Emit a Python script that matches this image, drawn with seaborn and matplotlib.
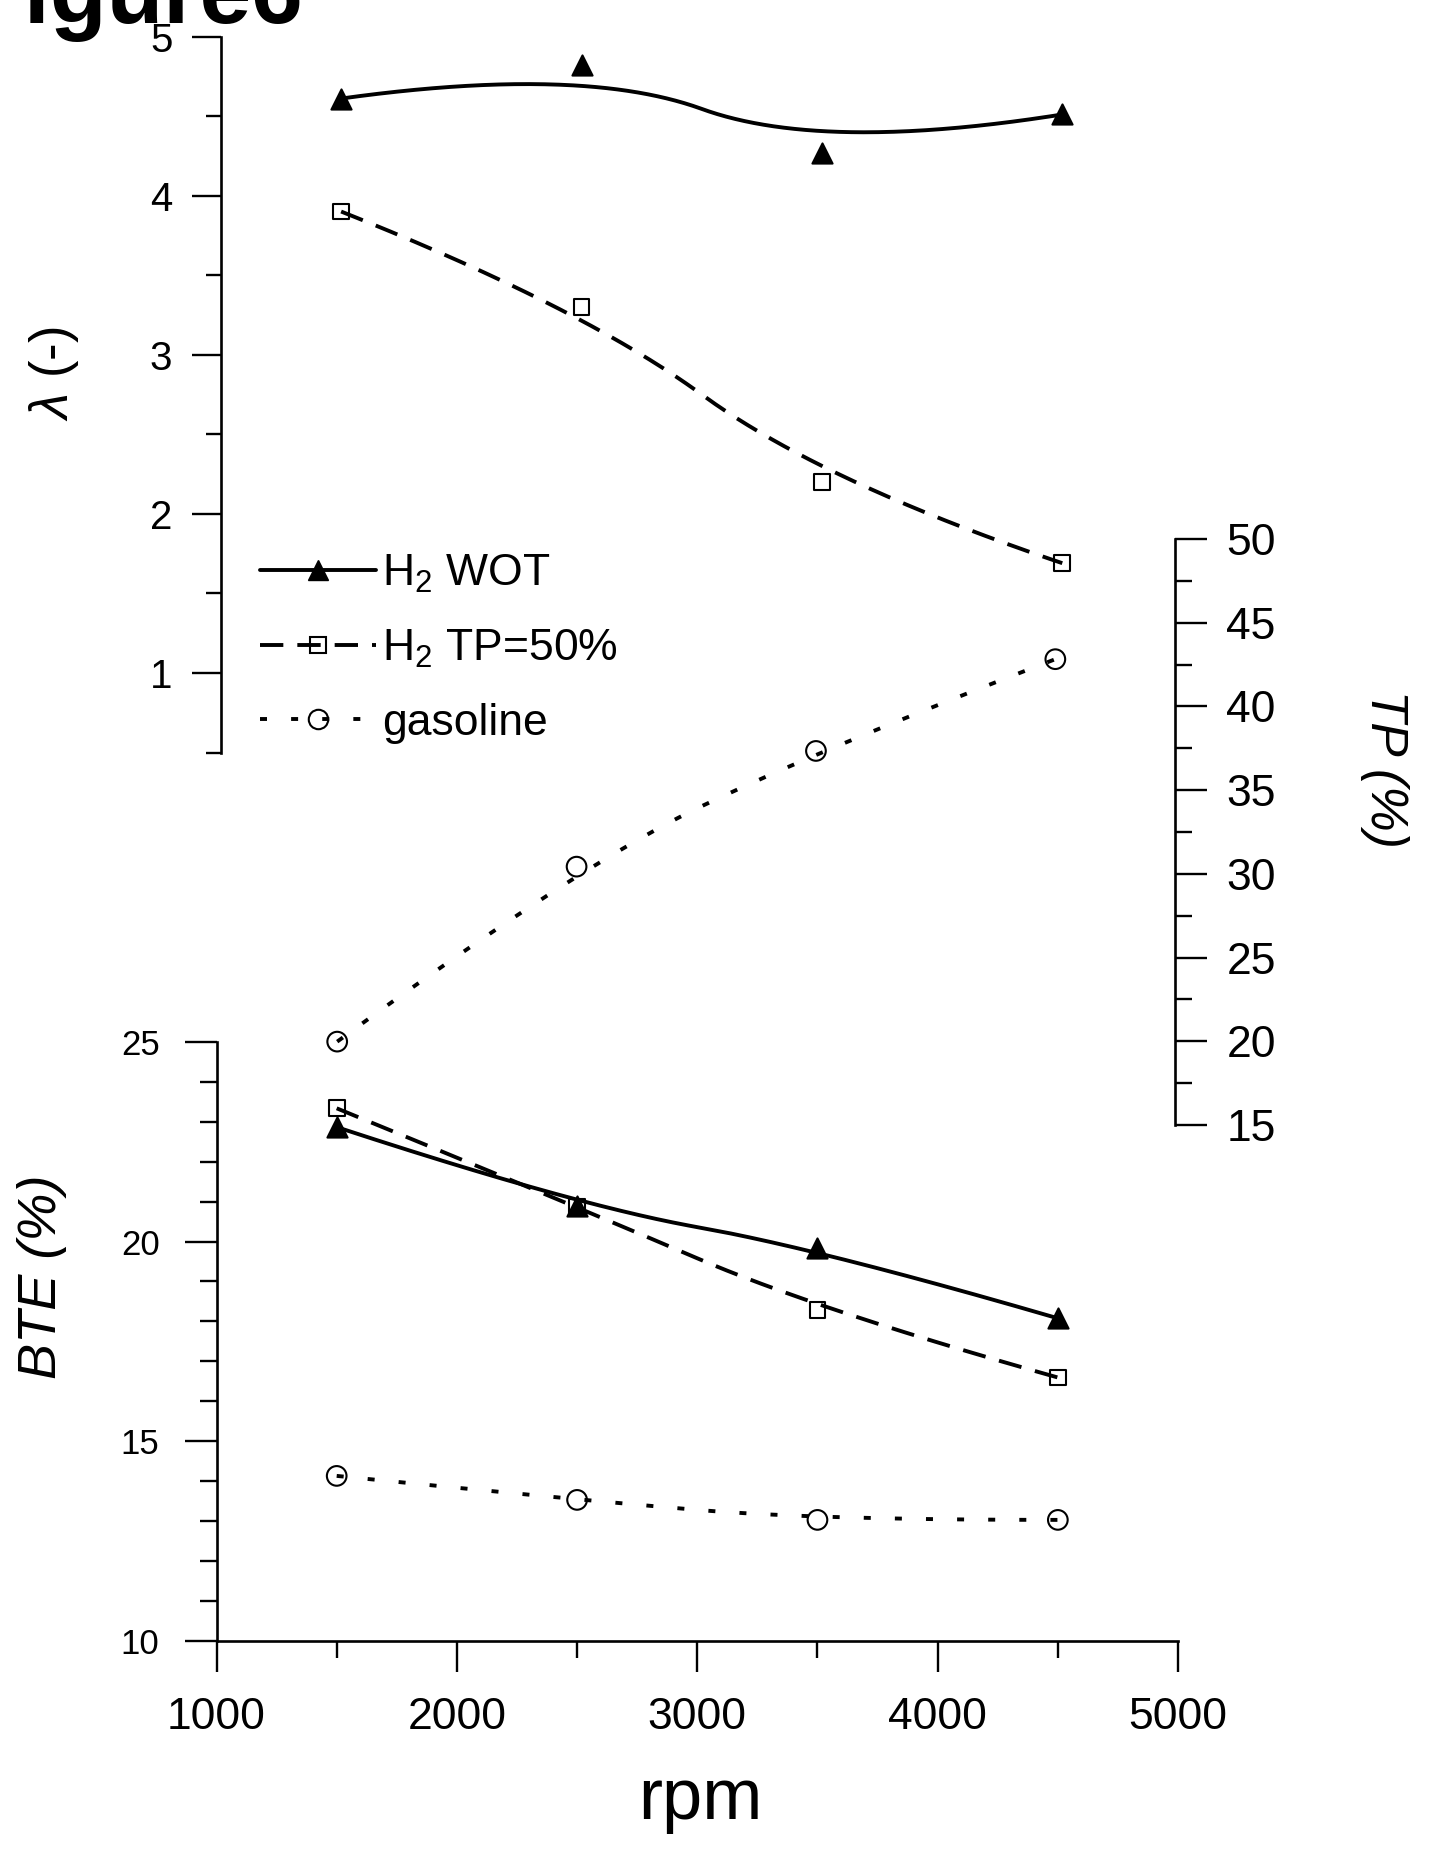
import numpy as np
import pandas as pd
import seaborn as sns
import matplotlib
matplotlib.use("Agg")
import matplotlib.pyplot as plt
from matplotlib.lines import Line2D
from matplotlib.ticker import MultipleLocator

# ---------------- data ----------------
rpm = [1500, 2500, 3500, 4500]
lambda_wot = [4.61, 4.82, 4.27, 4.51]
lambda_tp50 = [3.90, 3.30, 2.20, 1.69]
tp_gasoline = [19.98, 30.43, 37.34, 42.82]
bte_wot = [22.86, 20.89, 19.83, 18.08]
bte_tp50 = [23.33, 20.87, 18.29, 16.60]
bte_gasoline = [14.14, 13.54, 13.04, 13.04]
series_labels = ["H$_2$ WOT", "H$_2$ TP=50%", "gasoline"]
x_ticks = [1000, 2000, 3000, 4000, 5000]
lambda_ticks = [1, 2, 3, 4, 5]
tp_ticks = [15, 20, 25, 30, 35, 40, 45, 50]
bte_ticks = [10, 15, 20, 25]

# ---------------- style ----------------
sns.set_theme(style="white", rc={
    "axes.edgecolor": "black", "xtick.color": "black", "ytick.color": "black",
    "text.color": "black", "axes.labelcolor": "black",
})
plt.rcParams["font.family"] = ["Liberation Sans", "DejaVu Sans"]
plt.rcParams["mathtext.fontset"] = "custom"
plt.rcParams["mathtext.rm"] = "Liberation Sans"
plt.rcParams["mathtext.it"] = "Liberation Sans:italic"
plt.rcParams["mathtext.bf"] = "Liberation Sans:bold"

LW = 2.8
SOLID = "-"
DASHED = (0, (6.0, 3.6))
DOTTED = (0, (1.8, 6.2))


def bspline(xs, ys, k=2, num=300):
    """Clamped uniform B-spline using the data points as control points
    (the 'B-spline' connector of the original plotting program)."""
    P = np.column_stack([xs, ys]).astype(float)
    n = len(P)
    interior = np.linspace(0, 1, n - k + 1)[1:-1]
    t = np.concatenate([np.zeros(k + 1), interior, np.ones(k + 1)])
    out = []
    for uu in np.linspace(0, 1, num):
        if uu >= 1:
            s = n - 1
        else:
            s = np.searchsorted(t, uu, side="right") - 1
        d = [P[j + s - k].copy() for j in range(k + 1)]
        for r in range(1, k + 1):
            for j in range(k, r - 1, -1):
                i = j + s - k
                den = t[i + k + 1 - r] - t[i]
                alpha = 0.0 if den == 0 else (uu - t[i]) / den
                d[j] = (1 - alpha) * d[j - 1] + alpha * d[j]
        out.append(d[k])
    return np.array(out)


def draw_series(ax, values, ls, marker, filled, msize):
    c = bspline(rpm, values)
    curve = pd.DataFrame({"rpm": c[:, 0], "val": c[:, 1]})
    sns.lineplot(data=curve, x="rpm", y="val", sort=False, estimator=None,
                 color="black", lw=LW, linestyle=ls, ax=ax, zorder=2)
    pts = pd.DataFrame({"rpm": rpm, "val": values})
    sns.scatterplot(data=pts, x="rpm", y="val", marker=marker, s=msize,
                    facecolor="black" if filled else "none",
                    edgecolor="black", linewidth=1.5, ax=ax, zorder=3)
    ax.set_xlabel("")
    ax.set_ylabel("")


fig = plt.figure(figsize=(14.3, 18.54), dpi=100)

ax_bte = fig.add_axes([0.1514, 0.11462, 0.8238 - 0.1514, 0.43824 - 0.11462])
ax_lam = fig.add_axes([0.1545, 0.59412, 0.6724, 0.98031 - 0.59412])
ax_tp = fig.add_axes([0.1521, 0.3932, 0.8217 - 0.1521, 0.7093 - 0.3932])

for ax in (ax_bte, ax_lam, ax_tp):
    ax.set_facecolor("none")
    ax.set_xlim(1000, 5000)
    for sp in ax.spines.values():
        sp.set_visible(False)
        sp.set_linewidth(1.9)

# ---- lambda panel ----
draw_series(ax_lam, lambda_wot, SOLID, "^", True, 210)
draw_series(ax_lam, lambda_tp50, DASHED, "s", False, 130)
ax_lam.set_ylim(0.5, 5)
ax_lam.spines["left"].set_visible(True)
ax_lam.xaxis.set_visible(False)
ax_lam.set_yticks(lambda_ticks)
ax_lam.yaxis.set_minor_locator(MultipleLocator(0.5))
ax_lam.tick_params(axis="y", which="major", direction="out", length=21,
                   width=1.7, labelsize=29, pad=14, left=True)
ax_lam.tick_params(axis="y", which="minor", direction="out", length=11,
                   width=1.7, left=True)

# ---- TP panel ----
draw_series(ax_tp, tp_gasoline, DOTTED, "o", False, 200)
ax_tp.set_ylim(15, 50)
ax_tp.spines["right"].set_visible(True)
ax_tp.xaxis.set_visible(False)
ax_tp.yaxis.tick_right()
ax_tp.set_yticks(tp_ticks)
ax_tp.yaxis.set_minor_locator(MultipleLocator(2.5))
ax_tp.tick_params(axis="y", which="major", direction="out", length=23,
                  width=1.7, labelsize=32, pad=14, right=True, left=False)
ax_tp.tick_params(axis="y", which="minor", direction="out", length=12,
                  width=1.7, right=True, left=False)

# ---- BTE panel ----
draw_series(ax_bte, bte_wot, SOLID, "^", True, 210)
draw_series(ax_bte, bte_tp50, DASHED, "s", False, 130)
draw_series(ax_bte, bte_gasoline, DOTTED, "o", False, 200)
ax_bte.set_ylim(10, 25)
ax_bte.spines["left"].set_visible(True)
ax_bte.spines["bottom"].set_visible(True)
ax_bte.set_xticks(x_ticks)
ax_bte.xaxis.set_minor_locator(MultipleLocator(500))
ax_bte.set_yticks(bte_ticks)
ax_bte.yaxis.set_minor_locator(MultipleLocator(1))
ax_bte.tick_params(axis="x", which="major", direction="out", length=22,
                   width=1.7, labelsize=32, pad=18, bottom=True)
ax_bte.tick_params(axis="x", which="minor", direction="out", length=12,
                   width=1.7, bottom=True)
ax_bte.tick_params(axis="y", which="major", direction="out", length=23,
                   width=1.7, labelsize=25, pad=18, left=True)
ax_bte.tick_params(axis="y", which="minor", direction="out", length=12,
                   width=1.7, left=True)

# ---- legend ----
handles = [
    Line2D([], [], color="black", lw=LW, ls=SOLID, marker="^", markersize=14.5,
           mfc="black", mec="black"),
    Line2D([], [], color="black", lw=LW, ls=DASHED, marker="s", markersize=11.5,
           mfc="none", mec="black", mew=1.5),
    Line2D([], [], color="black", lw=LW, ls=DOTTED, marker="o", markersize=14,
           mfc="none", mec="black", mew=1.5),
]
fig.legend(handles, series_labels, loc="upper left",
           bbox_to_anchor=(0.1818, 0.702), frameon=False, fontsize=32,
           handlelength=2.6, handletextpad=0.15, labelspacing=0.74,
           borderpad=0, borderaxespad=0)

# ---- texts ----
fig.text(-0.0225, 0.9878, "Figure6", fontsize=67, fontweight="bold",
         ha="left", va="baseline")
fig.text(0.0378, 0.7983, r"$\lambda$ (-)", rotation=90, fontsize=38,
         ha="center", va="center")
fig.text(0.0294, 0.3112, "BTE (%)", rotation=90, fontsize=39, style="italic",
         ha="center", va="center")
fig.text(0.9682, 0.5852, "TP (%)", rotation=270, fontsize=37, style="italic",
         ha="center", va="center")
fig.text(0.490, 0.0189, "rpm", fontsize=52, ha="center", va="baseline")

fig.savefig("out.png", dpi=100)
